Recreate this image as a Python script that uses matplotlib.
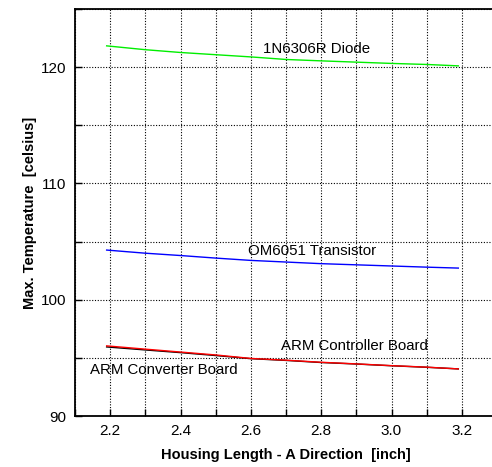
import matplotlib.pyplot as plt
import numpy as np
from matplotlib.ticker import MultipleLocator

plt.rcParams["font.family"] = ["Liberation Sans", "DejaVu Sans"]

housing_length = [2.19, 2.3, 2.4, 2.5, 2.6, 2.7, 2.8, 2.9, 3.0, 3.1, 3.19]
diode_temp = [121.83, 121.5, 121.26, 121.07, 120.88, 120.66, 120.54, 120.43, 120.32, 120.23, 120.11]
transistor_temp = [104.27, 104.0, 103.8, 103.58, 103.38, 103.24, 103.1, 103.0, 102.9, 102.8, 102.72]
controller_temp = [96.03, 95.75, 95.5, 95.25, 94.95, 94.8, 94.62, 94.48, 94.33, 94.2, 94.05]
converter_temp = [95.94, 95.68, 95.45, 95.2, 94.93, 94.78, 94.6, 94.47, 94.32, 94.19, 94.05]

curve_labels = ["1N6306R Diode", "OM6051 Transistor", "ARM Controller Board", "ARM Converter Board"]
label_pos = [(2.635, 121.55), (2.593, 104.15), (2.686, 95.99), (2.143, 93.93)]

fig = plt.figure(figsize=(4.92, 4.67), dpi=100)
ax = fig.add_axes([75 / 492, 51 / 467, 422 / 492, 407 / 467])

ax.plot(housing_length, converter_temp, color="black", lw=1.0)
ax.plot(housing_length, controller_temp, color="red", lw=1.0)
ax.plot(housing_length, transistor_temp, color="blue", lw=1.0)
ax.plot(housing_length, diode_temp, color="#00ee00", lw=1.0)

for text, (x, y) in zip(curve_labels, label_pos):
    ax.text(x, y, text, fontsize=10.8, va="center", ha="left")

ax.set_xlim(2.1, 3.3)
ax.set_ylim(90, 125)
ax.xaxis.set_major_locator(MultipleLocator(0.2))
ax.xaxis.set_minor_locator(MultipleLocator(0.1))
ax.yaxis.set_major_locator(MultipleLocator(10))
ax.yaxis.set_minor_locator(MultipleLocator(5))
ax.set_xticks(np.arange(2.2, 3.25, 0.2))
ax.set_xticklabels(["2.2", "2.4", "2.6", "2.8", "3.0", "3.2"])
ax.set_yticks([90, 100, 110, 120])

ax.grid(which="both", color="black", linestyle=(0, (1, 1.5)), linewidth=0.8)
ax.tick_params(which="both", direction="in", length=5, width=1, labelsize=11,
               top=False, right=False, pad=6)

for side in ["left", "bottom", "top"]:
    ax.spines[side].set_linewidth(1.3)
ax.spines["right"].set_visible(False)

ax.set_xlabel("Housing Length - A Direction  [inch]", fontsize=10.5, fontweight="bold", labelpad=7)
ax.set_ylabel("Max. Temperature  [celsius]", fontsize=10.5, fontweight="bold", labelpad=3)

fig.savefig("out.png", dpi=100)
